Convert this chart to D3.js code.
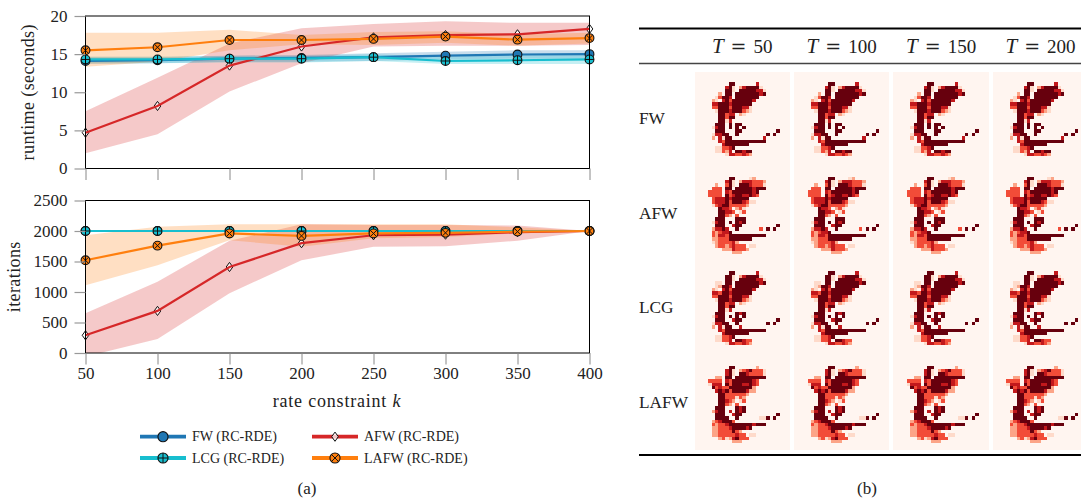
<!DOCTYPE html>
<html><head><meta charset="utf-8">
<script src="https://cdn.jsdelivr.net/npm/d3@7"></script>
<style>html,body{margin:0;padding:0;background:#fff;overflow:hidden}svg{display:block}text{font-family:"Liberation Serif",serif;fill:#222}</style>
</head><body><svg id="c" width="1081" height="499"></svg>
<script>
const rateK = [50,100,150,200,250,300,350,400];
const runtimeTicks = [0,5,10,15,20];
const iterTicks = [0,500,1000,1500,2000,2500];
const seriesNames = ["FW (RC-RDE)","AFW (RC-RDE)","LCG (RC-RDE)","LAFW (RC-RDE)"];
const seriesColors = ["#1f77b4","#d62728","#17becf","#ff7f0e"];
const seriesMarks = ["circle","diamond","plus","cross"];

const runtimeFW   = [14.1,14.2,14.4,14.5,14.6,14.8,14.95,15.0];
const runtimeFWLo = [13.7,13.8,14.0,14.0,14.1,14.3,14.4,14.4];
const runtimeFWHi = [14.6,14.6,14.8,14.9,15.1,15.3,15.5,15.5];
const runtimeAFW   = [4.7,8.2,13.5,16.0,17.2,17.5,17.6,18.3];
const runtimeAFWLo = [2.0,4.5,10.1,13.8,16.0,16.1,16.1,16.2];
const runtimeAFWHi = [7.5,11.9,16.4,18.4,18.95,19.3,19.1,19.1];
const runtimeLCG   = [14.3,14.3,14.4,14.4,14.6,14.1,14.2,14.3];
const runtimeLCGLo = [13.8,13.8,13.9,13.9,14.1,13.7,13.7,13.7];
const runtimeLCGHi = [14.7,14.7,14.8,14.8,15.0,14.7,14.9,15.0];
const runtimeLAFW   = [15.5,15.9,16.85,16.85,17.0,17.3,16.9,17.1];
const runtimeLAFWLo = [13.35,14.0,15.5,16.3,16.2,16.5,16.1,16.4];
const runtimeLAFWHi = [17.8,17.8,18.2,17.5,17.9,18.0,17.6,17.8];

const iterFW  = [2000,2000,2000,2000,2000,2000,2000,2000];
const iterLCG = [2000,2000,2000,2000,2000,2000,2000,2000];
const iterAFW   = [290,690,1410,1800,1930,1940,1980,2000];
const iterAFWLo = [-60,230,980,1520,1740,1750,1840,2000];
const iterAFWHi = [650,1170,1840,2110,2100,2100,2090,2000];
const iterLAFW   = [1520,1760,1960,1920,1960,1970,1990,2000];
const iterLAFWLo = [1110,1440,1850,1740,1880,1900,1960,2000];
const iterLAFWHi = [1930,2070,2110,2110,2110,2110,2060,2000];

const tableCols = ["50","100","150","200"];
const tableRows = ["FW","AFW","LCG","LAFW"];
const levelShade = {".":0,"1":.14,"2":.32,"3":.58,"4":.78,"5":1};

const gridFW = ["","","",
"..........55......4",
".........451.2455551",
".........551.55555441",
".......2.55.555555545",
"......13554.5555555",
".....21.4535555554",
".....445554555555",
".....335553555441",
"......15554555321",
".......55344.21",
".......55355",
".......5514",
"......555.5.55",
".....1455.5.5.5",
"......555...55..........5",
".....14455..5........5.5",
".....2.4155.........4",
".......43555555555555",
"........45555555",
"......113345",
"......11324.55455",
".........14433432"];
const gridAFW = ["","","",
"..........55....12",
".........451.24443332",
"......2..351.55543331",
".....333.55.555554555",
"....3333.4355555545",
"....3333.5345544543",
".....34445455555",
".....3444535554311",
".....13455333332",
".......5443.231",
".......55443.13",
".......5532.3",
"......555...555",
".....1455.5.545",
"......555..455..........5",
".....24454..5......3.5.5",
".....323445",
".....3244355555555555",
".....223335555555",
".....12333342",
"......233234333.11",
"........22243332",
"...........222"];
const gridLCG = ["","","",
"..........55......4",
".........551.2455551",
".........551.55555441",
"......11.55.555555545",
"......12554.5555555",
".....21.4535555554",
".....443554555555",
".....335553555441",
"......15554555321",
".......55344.21",
".......55355",
".......5514",
"......555...545",
".....1455.5.5.5",
"......555..455..........5",
".....14455..5........5.5",
".....2.4155..4",
".......43555555555555",
"........45555555",
"......113345",
"......11334.55433",
".........14433432"];
const gridLAFW = ["","","",
"..........55......2",
".........451.23453331",
".........451.55433331",
"......22.55.555555555",
"....3333.4355555543",
"....1444.5355544543",
".....5343355555552",
"......454535555422",
".......553333332",
".......55333132",
".......55432.13",
".......5532.3",
"......555...545",
".....2455.4.545",
"......555..455..........5",
"......5555..5......115.5",
".....2345553",
".....3233455555554555",
".....223334555545",
".....223333532",
".....2233333433.11",
".......231245333",
"...........222"];
const grids = [gridFW,gridAFW,gridLCG,gridLAFW];

const svg = d3.select("#c");
const x = d3.scaleLinear().domain([50,400]).range([85.5,589.5]);

function marker(g, kind, color, cx, cy, s){
  if(kind==="diamond"){
    g.append("path").attr("d",`M${cx},${cy-4.6*s}L${cx+3.3*s},${cy}L${cx},${cy+4.6*s}L${cx-3.3*s},${cy}Z`)
      .attr("fill","#fff").attr("fill-opacity",.75).attr("stroke","#111").attr("stroke-width",1);
    return;
  }
  const r=4.4*s;
  g.append("circle").attr("cx",cx).attr("cy",cy).attr("r",r).attr("fill",color).attr("stroke","#111").attr("stroke-width",1.1);
  if(kind==="plus") g.append("path").attr("d",`M${cx-r},${cy}H${cx+r}M${cx},${cy-r}V${cy+r}`).attr("stroke","#111").attr("stroke-width",1);
  if(kind==="cross"){const d=r*.707;g.append("path").attr("d",`M${cx-d},${cy-d}L${cx+d},${cy+d}M${cx-d},${cy+d}L${cx+d},${cy-d}`).attr("stroke","#111").attr("stroke-width",1);}
}

function panel(id, yDomain, yRange, ticks, yLabel, yLabelX, series, xLabels){
  const y = d3.scaleLinear().domain(yDomain).range(yRange);
  const g = svg.append("g");
  const clipId="clip"+id;
  g.append("clipPath").attr("id",clipId).append("rect").attr("x",x.range()[0]).attr("y",yRange[1]).attr("width",x.range()[1]-x.range()[0]).attr("height",yRange[0]-yRange[1]);
  const area = d3.area().x((d,i)=>x(rateK[i])).y0(d=>y(d[0])).y1(d=>y(d[1]));
  const line = d3.line().x((d,i)=>x(rateK[i])).y(d=>y(d));
  series.forEach(s=>{
    if(s.lo) g.append("path").datum(s.lo.map((v,i)=>[v,s.hi[i]])).attr("d",area).attr("fill",s.color).attr("fill-opacity",.25).attr("clip-path",`url(#${clipId})`);
  });
  series.forEach(s=>{
    const isDia=s.kind==="diamond";
    if(!isDia) g.append("path").datum(s.v).attr("d",line).attr("fill","none").attr("stroke",s.color).attr("stroke-width",2.2);
    const mg=g.append("g");
    s.v.forEach((v,i)=>marker(mg,s.kind,s.color,x(rateK[i]),y(v),1));
    if(isDia) g.append("path").datum(s.v).attr("d",line).attr("fill","none").attr("stroke",s.color).attr("stroke-width",2.2);
  });
  g.append("rect").attr("x",x.range()[0]).attr("y",yRange[1]).attr("width",x.range()[1]-x.range()[0]).attr("height",yRange[0]-yRange[1]).attr("fill","none").attr("stroke","#000").attr("stroke-width",1);
  const ay=g.append("g").attr("transform",`translate(${x.range()[0]},0)`).call(d3.axisLeft(y).tickValues(ticks).tickFormat(d3.format("d")).tickSize(11).tickPadding(7));
  ay.select(".domain").remove();
  ay.selectAll("line").attr("stroke","#999").attr("stroke-width",1.2);
  ay.selectAll("text").attr("font-size",17).attr("font-family","Liberation Serif").attr("fill","#222");
  const ax=g.append("g").attr("transform",`translate(0,${yRange[0]})`).call(d3.axisBottom(x).tickValues(rateK).tickFormat(xLabels?d3.format("d"):"").tickSize(11.5).tickPadding(2));
  ax.select(".domain").remove();
  ax.selectAll("line").attr("stroke","#888").attr("stroke-width",1);
  ax.selectAll("text").attr("font-size",17).attr("font-family","Liberation Serif").attr("fill","#222");
  g.append("text").attr("transform",`translate(${yLabelX},${(yRange[0]+yRange[1])/2}) rotate(-90)`).attr("text-anchor","middle").attr("font-size",18).attr("letter-spacing",".4").text(yLabel);
}

panel("a",[0,20],[168.5,16],runtimeTicks,"runtime (seconds)",34,[
 {kind:"circle",color:seriesColors[0],v:runtimeFW,lo:runtimeFWLo,hi:runtimeFWHi},
 {kind:"diamond",color:seriesColors[1],v:runtimeAFW,lo:runtimeAFWLo,hi:runtimeAFWHi},
 {kind:"plus",color:seriesColors[2],v:runtimeLCG,lo:runtimeLCGLo,hi:runtimeLCGHi},
 {kind:"cross",color:seriesColors[3],v:runtimeLAFW,lo:runtimeLAFWLo,hi:runtimeLAFWHi}],false);
panel("b",[0,2500],[353,200.5],iterTicks,"iterations",20,[
 {kind:"circle",color:seriesColors[0],v:iterFW},
 {kind:"diamond",color:seriesColors[1],v:iterAFW,lo:iterAFWLo,hi:iterAFWHi},
 {kind:"plus",color:seriesColors[2],v:iterLCG},
 {kind:"cross",color:seriesColors[3],v:iterLAFW,lo:iterLAFWLo,hi:iterLAFWHi}],true);

const xl=svg.append("text").attr("x",337).attr("y",407).attr("text-anchor","middle").attr("font-size",18).attr("letter-spacing",".8");
xl.append("tspan").text("rate constraint ");
xl.append("tspan").attr("font-style","italic").text("k");

// legend
const legCols=[[140,186,163,192],[312,358,335,364]];
const legRows=[436.7,458];
seriesNames.forEach((n,i)=>{
  const c=legCols[i%2], yy=legRows[i<2?0:1];
  const g=svg.append("g");
  g.append("line").attr("x1",c[0]).attr("x2",c[1]).attr("y1",yy).attr("y2",yy).attr("stroke",seriesColors[i]).attr("stroke-width",3.8);
  marker(g,seriesMarks[i],seriesColors[i],c[2],yy,seriesMarks[i]==="diamond"?1:1.15);
  g.append("text").attr("x",c[3]).attr("y",yy+4.6).attr("font-size",14).text(n);
});
svg.append("text").attr("x",307).attr("y",494).attr("text-anchor","middle").attr("font-size",17).text("(a)");
svg.append("text").attr("x",867).attr("y",494).attr("text-anchor","middle").attr("font-size",17).text("(b)");

// table
const colX=d3.scaleBand().domain(tableCols).range([694.5,1088.3]).paddingInner(.04);
const rowY=d3.scaleBand().domain(tableRows).range([72,450]);
const cellX=d3.scaleBand().domain(d3.range(28)).range([0,colX.bandwidth()]);
const cellY=d3.scaleBand().domain(d3.range(28)).range([0,rowY.bandwidth()]);
tableRows.forEach((r,ri)=>{
  tableCols.forEach(c=>{
    const g=svg.append("g").attr("transform",`translate(${colX(c)},${rowY(r)})`).attr("shape-rendering","crispEdges");
    g.append("rect").attr("width",colX.bandwidth()).attr("height",rowY.bandwidth()).attr("fill",d3.interpolateReds(0));
    grids[ri].forEach((row,yi)=>{
      [...row].forEach((ch,xi)=>{
        if(ch===".") return;
        g.append("rect").attr("x",cellX(xi)).attr("y",cellY(yi)).attr("width",cellX.bandwidth()).attr("height",cellY.bandwidth()).attr("fill",d3.interpolateReds(levelShade[ch]));
      });
    });
  });
  svg.append("text").attr("x",639).attr("y",rowY(r)+rowY.bandwidth()/2+5).attr("font-size",17.3).text(r);
});
tableCols.forEach(c=>{
  const t=svg.append("text").attr("x",colX(c)+colX.bandwidth()/2).attr("y",52.5).attr("text-anchor","middle").attr("font-size",19);
  t.append("tspan").attr("font-style","italic").attr("font-size",21).text("T");
  t.append("tspan").attr("dx",7).attr("font-family","DejaVu Serif").text("=");
  t.append("tspan").attr("dx",7).text(c);
});
[[28.5,2.2,"#000"],[63.5,1.4,"#444"],[455,2.2,"#000"]].forEach(d=>{
  svg.append("line").attr("x1",639).attr("x2",1081).attr("y1",d[0]).attr("y2",d[0]).attr("stroke",d[2]).attr("stroke-width",d[1]);
});
</script></body></html>
